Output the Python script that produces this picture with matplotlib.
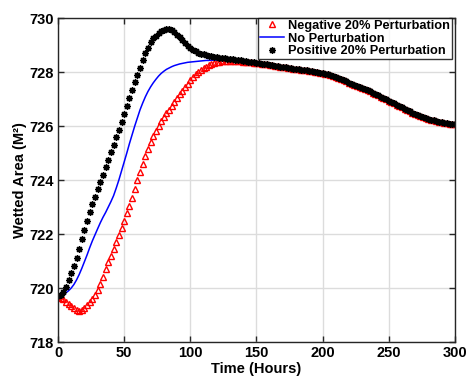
import numpy as np
import matplotlib
matplotlib.use("Agg")
import matplotlib.pyplot as plt

plt.rcParams['font.family'] = ['Liberation Sans', 'DejaVu Sans']
plt.rcParams['font.weight'] = 'bold'

# time in hours, sampled every 2 h
t = np.arange(0, 301, 2)

# t = 0..148
neg_head = [719.68, 719.64, 719.58, 719.50, 719.42, 719.33, 719.25, 719.19, 719.16, 719.18,
            719.26, 719.36, 719.47, 719.60, 719.74, 719.92, 720.15, 720.42, 720.70, 720.95,
            721.20, 721.45, 721.70, 721.97, 722.24, 722.50, 722.77, 723.05, 723.35, 723.68,
            724.00, 724.30, 724.60, 724.88, 725.15, 725.40, 725.62, 725.82, 726.00, 726.17,
            726.32, 726.47, 726.61, 726.75, 726.89, 727.03, 727.17, 727.30, 727.43, 727.57,
            727.70, 727.82, 727.92, 728.01, 728.08, 728.14, 728.20, 728.25, 728.29, 728.33,
            728.36, 728.38, 728.40, 728.41, 728.42, 728.42, 728.42, 728.42, 728.41, 728.40,
            728.39, 728.38, 728.37, 728.36, 728.34]
base_head = [719.70, 719.72, 719.76, 719.82, 719.90, 720.00, 720.13, 720.30, 720.50, 720.73,
             720.98, 721.23, 721.50, 721.75, 721.98, 722.20, 722.42, 722.62, 722.80, 723.00,
             723.20, 723.42, 723.70, 724.00, 724.33, 724.66, 725.00, 725.35, 725.68, 726.00,
             726.30, 726.60, 726.85, 727.08, 727.28, 727.45, 727.60, 727.73, 727.85, 727.95,
             728.03, 728.10, 728.15, 728.20, 728.24, 728.27, 728.30, 728.32, 728.34, 728.36,
             728.37, 728.38, 728.39, 728.40, 728.41, 728.42, 728.43, 728.43, 728.44, 728.44,
             728.45, 728.45, 728.45, 728.45, 728.45, 728.44, 728.43, 728.42, 728.41, 728.40,
             728.39, 728.38, 728.37, 728.36, 728.34]
pos_head = [719.70, 719.75, 719.85, 720.05, 720.30, 720.55, 720.80, 721.10, 721.45, 721.80,
            722.15, 722.50, 722.80, 723.10, 723.38, 723.65, 723.92, 724.20, 724.47, 724.75,
            725.02, 725.30, 725.58, 725.86, 726.15, 726.45, 726.75, 727.05, 727.35, 727.62,
            727.90, 728.15, 728.45, 728.70, 728.90, 729.10, 729.25, 729.35, 729.45, 729.52,
            729.57, 729.60, 729.60, 729.56, 729.48, 729.38, 729.28, 729.17, 729.07, 728.98,
            728.90, 728.83, 728.77, 728.72, 728.68, 728.65, 728.62, 728.60, 728.58, 728.56,
            728.54, 728.53, 728.52, 728.51, 728.50, 728.49, 728.48, 728.46, 728.45, 728.43,
            728.42, 728.40, 728.39, 728.37, 728.36]
# t = 150..300, where the three runs coincide
tail = [728.33, 728.32, 728.31, 728.30, 728.28, 728.27, 728.25, 728.24, 728.22, 728.20,
        728.19, 728.17, 728.16, 728.14, 728.13, 728.12, 728.11, 728.09, 728.08, 728.07,
        728.05, 728.03, 728.02, 728.00, 727.98, 727.96, 727.94, 727.91, 727.88, 727.84,
        727.81, 727.77, 727.73, 727.69, 727.65, 727.61, 727.57, 727.53, 727.49, 727.45,
        727.41, 727.37, 727.33, 727.28, 727.24, 727.19, 727.14, 727.09, 727.04, 726.99,
        726.94, 726.89, 726.84, 726.79, 726.74, 726.69, 726.64, 726.59, 726.54, 726.49,
        726.44, 726.40, 726.36, 726.32, 726.29, 726.26, 726.23, 726.21, 726.18, 726.16,
        726.14, 726.12, 726.10, 726.08, 726.07, 726.06]

neg = neg_head + tail
base = base_head + tail
pos = pos_head + tail

fig = plt.figure(figsize=(4.66, 3.76), dpi=100)
ax = fig.add_axes([0.1245, 0.0904, 0.8515, 0.8616])

ax.plot(t, neg, linestyle='none', marker='^', markersize=5, markerfacecolor='none',
        markeredgecolor='red', markeredgewidth=1.0, label='Negative 20% Perturbation')
ax.plot(t, base, color='blue', linewidth=1.1, label='No Perturbation')
ax.plot(t, pos, linestyle='none', marker=(8, 2, 0), markersize=4.8, color='black',
        markeredgewidth=1.0, label='Positive 20% Perturbation')

ax.set_xlim(0, 300)
ax.set_ylim(718, 730)
ax.set_xticks(np.arange(0, 301, 50))
ax.set_yticks(np.arange(718, 731, 2))
ax.grid(True, color='#dcdcdc', linewidth=1.0)
ax.set_axisbelow(True)
ax.tick_params(direction='in', top=True, right=True, labelsize=10.5, length=4,
               width=1.0, color='#262626', pad=3)
for s in ax.spines.values():
    s.set_color('#262626')
    s.set_linewidth(1.0)

ax.set_xlabel('Time (Hours)', fontsize=10.5, fontweight='bold', labelpad=1)
ax.set_ylabel('Wetted Area (M²)', fontsize=10.5, fontweight='bold', labelpad=2)

leg = ax.legend(loc='upper right', fontsize=9.2, frameon=True, fancybox=False,
                borderpad=0.15, labelspacing=0.05, handlelength=1.9, handletextpad=0.3,
                borderaxespad=0.0, bbox_to_anchor=(0.993, 1.0))
leg.get_frame().set_edgecolor('black')
leg.get_frame().set_linewidth(1.0)

fig.savefig('out.png', dpi=100)
